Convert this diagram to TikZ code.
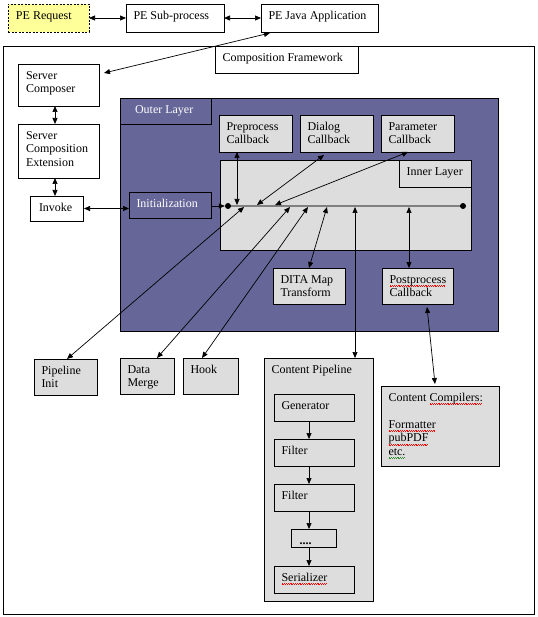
\documentclass[tikz,border=0pt]{standalone}
\usepackage{fontspec}
\setmainfont{Liberation Serif}
\usetikzlibrary{arrows.meta}
\definecolor{purp}{HTML}{666699}
\definecolor{boxgray}{HTML}{DDDDDD}
\definecolor{yel}{HTML}{FFFF99}
\definecolor{linegray}{HTML}{808080}
\definecolor{spellgreen}{HTML}{2E8B2E}
% wavy spell-check underline: colour, text
\newcommand\wv[2]{\leavevmode\setbox0\hbox{#2}\rlap{\textcolor{#1}{\leaders\hbox{\rule[-3.4pt]{0.9pt}{0.5pt}\rule[-2.2pt]{0.9pt}{0.5pt}}\hskip\wd0}}\box0}
% name, x1, y1, x2, y2, style, left pad, text
\newcommand\bx[8]{%
  \node[#6, anchor=north west, inner sep=0pt, outer sep=0pt] (#1) at (#2,#3)
  {\parbox[c][\dimexpr#5pt-#3pt\relax][t]{\dimexpr#4pt-#2pt\relax}{\fontsize{12}{13.5}\selectfont\raggedright\leftskip=#7pt\vspace*{6pt}\strut #8}};%
}
\tikzset{
  wbox/.style={draw, fill=white, line width=0.8pt},
  gbox/.style={draw, fill=boxgray, line width=0.8pt},
  pbox/.style={draw, fill=purp, text=white, line width=0.8pt},
  ybox/.style={draw, fill=yel, line width=0.8pt, dash pattern=on 2pt off 1.5pt},
  tip/.tip={Triangle[length=6pt,width=5pt]},
  arr/.style={-tip, line width=0.7pt},
  darr/.style={tip-tip, line width=0.7pt},
  dotnode/.style={circle, fill=black, inner sep=0pt, minimum size=6pt},
}
\begin{document}
\begin{tikzpicture}[x=1pt, y=-1pt]
\useasboundingbox (0,0) rectangle (537,617);
% top row
\bx{pereq}{8}{4}{89}{32}{ybox}{8}{PE Request}
\bx{pesub}{126}{4}{224}{32}{wbox}{7.5}{PE Sub-process}
\bx{pejava}{261}{4}{378}{32}{wbox}{7.5}{PE Java Application}
% framework
\bx{frame}{3}{46}{534}{614}{wbox}{0}{}
\bx{compfw}{215}{46}{358}{73}{wbox}{7.5}{Composition Framework}
\bx{sc}{18}{64}{99}{106}{wbox}{8}{Server\\Composer}
\bx{sce}{18}{124}{99}{178}{wbox}{8}{Server\\Composition\\Extension}
\bx{invoke}{30}{196}{83}{221}{wbox}{9}{Invoke}
% outer layer
\bx{outer}{120}{98}{498}{331}{pbox}{0}{}
\bx{outerlbl}{120}{98}{211}{124}{pbox}{15}{Outer Layer}
\bx{init}{129}{192}{211}{218}{pbox}{7.5}{Initialization}
\bx{pre}{219}{115}{292}{152}{gbox}{7.5}{Preprocess\\Callback}
\bx{dialog}{300}{115}{373}{152}{gbox}{7.5}{Dialog\\Callback}
\bx{param}{381}{115}{454}{152}{gbox}{7.5}{Parameter\\Callback}
\bx{inner}{220}{160}{471}{250}{gbox}{0}{}
\bx{innerlbl}{399}{160}{471}{187}{gbox}{7.5}{Inner Layer}
\bx{dita}{273}{268}{345}{304}{gbox}{7.5}{DITA Map\\Transform}
\bx{post}{382}{268}{453}{304}{gbox}{7.5}{\wv{red}{Postprocess}\\Callback}
% lower boxes
\bx{pinit}{34}{359}{97}{395}{gbox}{7.5}{Pipeline\\Init}
\bx{dmerge}{120}{358}{174}{394}{gbox}{7.5}{Data\\Merge}
\bx{hook}{183}{358}{238}{394}{gbox}{7.5}{Hook}
\bx{cpipe}{264}{358}{373}{601}{gbox}{7.5}{Content Pipeline}
\bx{gen}{274}{394}{354}{421}{gbox}{7.5}{Generator}
\bx{f1}{274}{439}{354}{466}{gbox}{7.5}{Filter}
\bx{f2}{274}{484}{354}{511}{gbox}{7.5}{Filter}
\bx{dots}{291}{529}{336}{547}{gbox}{8.5}{\textbf{....}}
\bx{ser}{274}{566}{354}{593}{gbox}{7.5}{\wv{red}{Serializer}}
\bx{ccomp}{381}{386}{499}{466}{gbox}{7.5}{Content \wv{red}{Compilers:}\\[13.5pt]\wv{red}{Formatter}\\\wv{red}{pubPDF}\\\wv{spellgreen}{etc.}}
% inner line with end dots
\coordinate (lineL) at (228,206);
\coordinate (lineR) at (463,206);
\draw[linegray, line width=2pt] (lineL) -- (lineR);
\node[dotnode] (dotL) at (lineL) {};
\node[dotnode] (dotR) at (lineR) {};
% reference points
\coordinate (colx) at (55,0);
\coordinate (px) at (309,0);
\coordinate (jx) at (270,0);
\coordinate (pA) at (237,205);
\coordinate (pB) at (244,207);
\coordinate (pC) at (257,205);
\coordinate (pD) at (275,205);
\coordinate (pE) at (290,207);
\coordinate (pF) at (308,207);
\coordinate (pG) at (327,207);
\coordinate (pH) at (355,207);
\coordinate (pI) at (409,207);
% connectors
\draw[darr] (pereq.east) -- (pesub.west);
\draw[darr] (pesub.east) -- (pejava.west);
\draw[darr] ([yshift=-1pt]pejava.south -| jx) -- ([shift={(5pt,-9pt)}]sc.north east);
\draw[darr] (sc.south -| colx) -- (sce.north -| colx);
\draw[darr] (sce.south -| colx) -- (invoke.north -| colx);
\draw[darr] ([xshift=1pt]invoke.east) -- (init.west |- invoke.east);
\draw[arr] (init.east |- dotL) -- (dotL.west);
\draw[darr] (pre.south -| pA) -- (pA);
\draw[darr] ([shift={(-12.5pt,-3pt)}]dialog.south) -- (pC);
\draw[darr] ([xshift=-9.5pt]param.south) -- (pD);
\draw[darr] ([xshift=1.5pt]pinit.north) -- (pB);
\draw[darr] ([xshift=10pt]dmerge.north) -- (pE);
\draw[darr] ([xshift=-8.5pt]hook.north) -- (pF);
\draw[darr] (dita.north) -- (pG);
\draw[darr] (cpipe.north -| pH) -- (pH);
\draw[darr] (post.north -| pI) -- (pI);
\draw[darr] ([shift={(9.5pt,-3pt)}]post.south) -- ([shift={(-5pt,2pt)}]ccomp.north);
\draw[arr] (gen.south -| px) -- (f1.north -| px);
\draw[arr] (f1.south -| px) -- (f2.north -| px);
\draw[arr] (f2.south -| px) -- (dots.north -| px);
\draw[arr] (dots.south -| px) -- (ser.north -| px);
\end{tikzpicture}
\end{document}
